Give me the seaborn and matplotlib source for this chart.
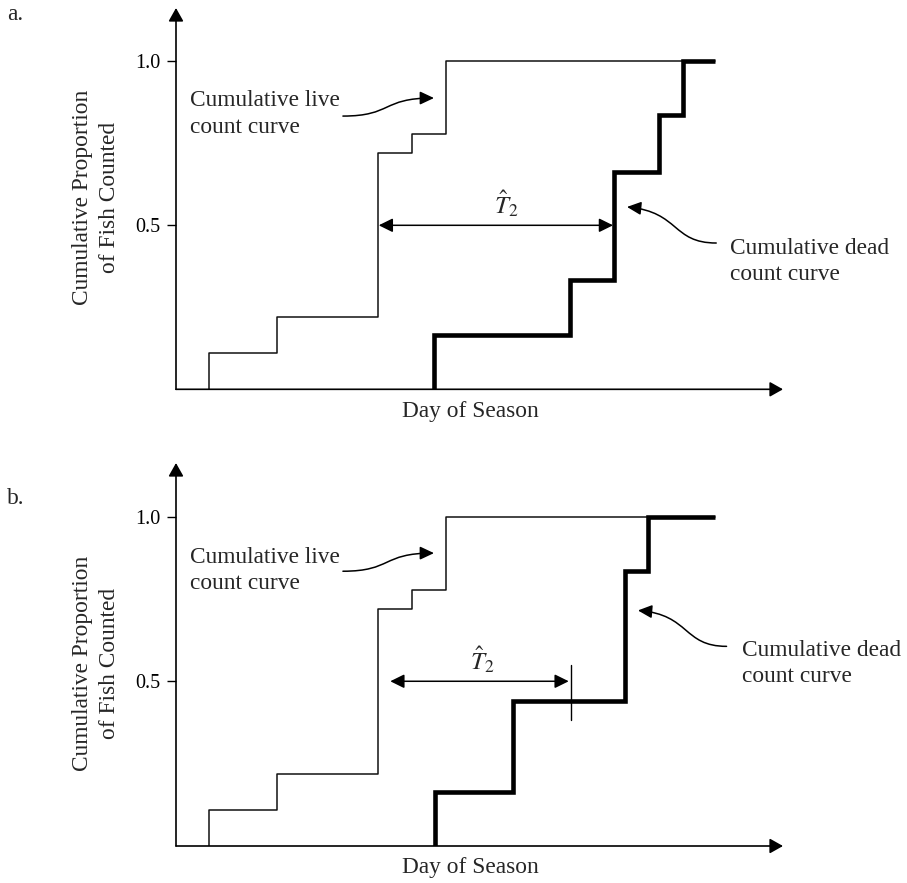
import numpy as np
import pandas as pd
import matplotlib
matplotlib.use("Agg")
import matplotlib.pyplot as plt
import seaborn as sns
from matplotlib.patches import FancyArrowPatch
from matplotlib.path import Path

# ---------------- data (day of season, cumulative proportion) ----------------
live_days = [5.5, 16.7, 33.3, 38.9, 44.4, 88.8]
live_prop = [0.0, 0.11, 0.22, 0.72, 0.778, 1.0]

dead_days_a = [42.5, 64.9, 72.2, 79.6, 83.5, 88.8]
dead_prop_a = [0.0, 0.166, 0.333, 0.662, 0.835, 1.0]

dead_days_b = [42.6, 55.6, 74.0, 77.8, 88.8]
dead_prop_b = [0.0, 0.165, 0.44, 0.834, 1.0]

t2_a = [33.4, 72.0]
t2_b = [35.3, 64.7]
ytick_vals = [0.5, 1.0]
ytick_labels = ["0.5", "1.0"]

sns.set_theme(style="white")
plt.rcParams["font.family"] = ["Liberation Serif", "DejaVu Serif"]
plt.rcParams["mathtext.fontset"] = "stix"

W, H = 907, 883
fig = plt.figure(figsize=(W / 100, H / 100), dpi=100)

def px_axes(left, right, top, bottom):
    return fig.add_axes([left / W, 1 - bottom / H, (right - left) / W, (bottom - top) / H])

ax_a = px_axes(176, 783, 8, 389.3)
ax_b = px_axes(176, 783, 463, 846)


def curved_arrow(ax, pts):
    codes = [Path.MOVETO, Path.CURVE4, Path.CURVE4, Path.CURVE4]
    p = FancyArrowPatch(path=Path(pts, codes), arrowstyle="-|>,head_length=0.85,head_width=0.4",
                        mutation_scale=10, lw=1.1, color="black")
    ax.add_patch(p)


def setup(ax, dead_days, dead_prop, t2, live_arrow, dead_arrow, live_txt_y, dead_txt_xy, t2lab, tick=None):
    ax.set_xlim(0, 100)
    ax.set_ylim(0, 1.1625)
    for s in ax.spines.values():
        s.set_visible(False)
    df_live = pd.DataFrame({"day": live_days, "prop": live_prop})
    df_dead = pd.DataFrame({"day": dead_days, "prop": dead_prop})
    sns.lineplot(data=df_live, x="day", y="prop", ax=ax, color="#111111", lw=1.1,
                 estimator=None, sort=False, drawstyle="steps-pre")
    sns.lineplot(data=df_dead, x="day", y="prop", ax=ax, color="black", lw=3.3,
                 estimator=None, sort=False, drawstyle="steps-pre",
                 solid_capstyle="butt", solid_joinstyle="miter")
    ax.set_xlabel("")
    ax.set_ylabel("")
    ax.set_xticks([])
    ax.set_yticks(ytick_vals)
    ax.set_yticklabels(ytick_labels)
    ax.tick_params(axis="y", left=True, length=6.5, width=1.0, direction="out",
                   pad=5, labelsize=14.5, color="black", labelcolor="black")
    # axes with arrows
    ap = dict(arrowstyle="-|>,head_length=0.8,head_width=0.45", lw=1.2, color="black",
              shrinkA=0, shrinkB=0, mutation_scale=10)
    ax.annotate("", xy=(1, 0), xytext=(0, 0), xycoords="axes fraction", arrowprops=ap)
    ax.annotate("", xy=(0, 1), xytext=(0, 0), xycoords="axes fraction", arrowprops=ap)
    # T2 double arrow
    ap2 = dict(arrowstyle="<|-|>,head_length=0.85,head_width=0.42", lw=1.1, color="black",
               shrinkA=0, shrinkB=0, mutation_scale=10)
    ax.annotate("", xy=(t2[1], 0.5), xytext=(t2[0], 0.5), arrowprops=ap2)
    ax.text(t2lab[0], t2lab[1], r"$\hat{T}_2$", fontsize=18, ha="center", va="center")
    if tick is not None:
        ax.plot([tick[0], tick[0]], [tick[1], tick[2]], color="black", lw=1.0)
    curved_arrow(ax, live_arrow)
    curved_arrow(ax, dead_arrow)
    ax.text(2.3, live_txt_y, "Cumulative live\ncount curve", fontsize=16.8,
            ha="left", va="center", linespacing=1.33)
    ax.text(dead_txt_xy[0], dead_txt_xy[1], "Cumulative dead\ncount curve", fontsize=16.8,
            ha="left", va="center", linespacing=1.33)


setup(ax_a, dead_days_a, dead_prop_a, t2_a,
      [(27.5, 0.833), (35.6, 0.833), (33.9, 0.888), (42.5, 0.888)],
      [(89.0, 0.446), (81.7, 0.446), (83.0, 0.540), (74.3, 0.556)],
      0.839, (91.3, 0.390), (54.4, 0.565))
setup(ax_b, dead_days_b, dead_prop_b, t2_b,
      [(27.5, 0.834), (35.6, 0.834), (33.9, 0.889), (42.5, 0.889)],
      [(90.7, 0.606), (83.5, 0.606), (84.7, 0.702), (76.1, 0.715)],
      0.836, (93.2, 0.553), (50.5, 0.565), tick=(65.1, 0.383, 0.550))

ylab = "Cumulative Proportion\nof Fish Counted"
fig.text(96 / W, 1 - 197 / H, ylab, rotation=90, ha="center", va="center",
         fontsize=16.8, multialignment="center", linespacing=1.33)
fig.text(96 / W, 1 - 663 / H, ylab, rotation=90, ha="center", va="center",
         fontsize=16.8, multialignment="center", linespacing=1.33)
fig.text(470 / W, 1 - 411 / H, "Day of Season", ha="center", va="center", fontsize=16.8)
fig.text(470 / W, 1 - 868 / H, "Day of Season", ha="center", va="center", fontsize=16.8)
fig.text(7 / W, 1 - 14 / H, "a.", ha="left", va="center", fontsize=16.8)
fig.text(7 / W, 1 - 498 / H, "b.", ha="left", va="center", fontsize=16.8)

fig.savefig("out.png", dpi=100)
